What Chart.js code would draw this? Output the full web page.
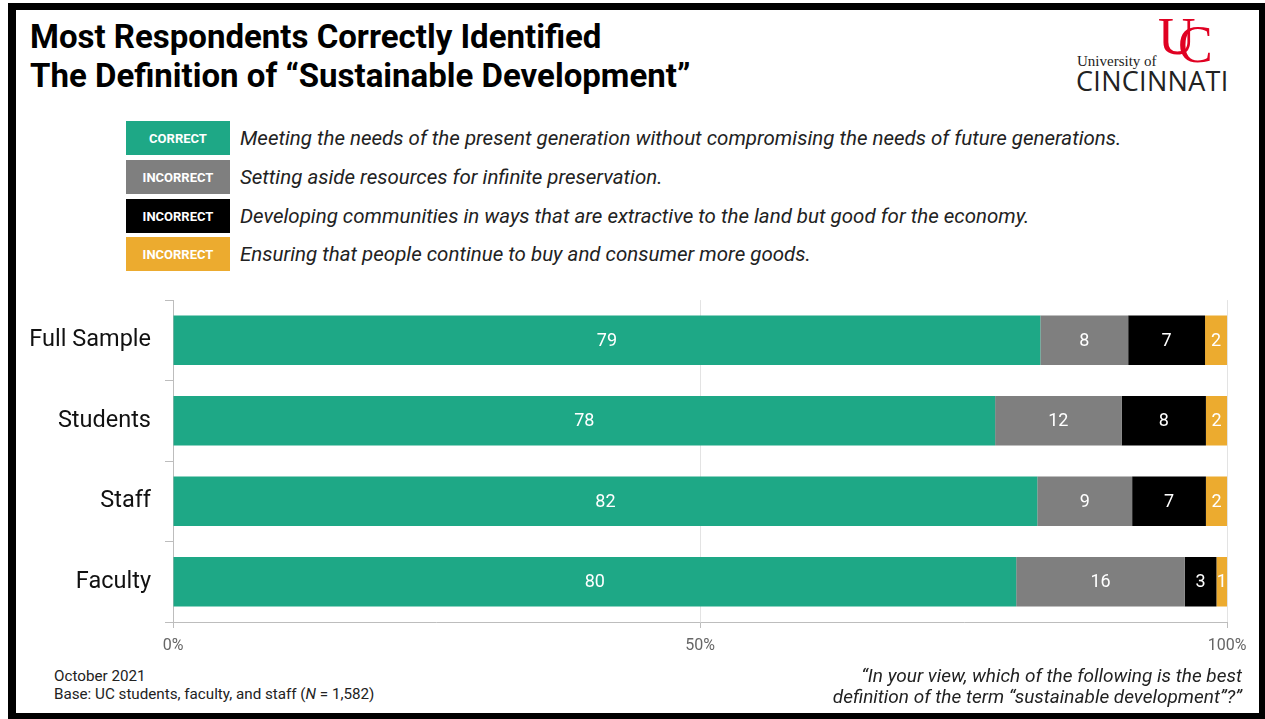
<!DOCTYPE html>
<html>
<head>
<meta charset="utf-8">
<title>Sustainable Development Definition</title>
<script src="https://cdn.jsdelivr.net/npm/chart.js@4.4.1/dist/chart.umd.min.js"></script>
<style>
  body { margin: 0; width: 1265px; height: 719px; background: #fff; font-family: Roboto, sans-serif; color: #111; overflow: hidden; position: relative; }
  #frame { position: absolute; left: 8px; top: 3px; width: 1257px; height: 716px; box-sizing: border-box; border-style: solid; border-color: #000; border-width: 7px 6px 6px 8px; }
  #title { position: absolute; left: 30px; top: 17px; font-weight: 700; font-size: 33px; line-height: 39px; color: #000; }
  #logo { position: absolute; left: 1070px; top: 14px; width: 170px; height: 80px; }
  #logo .uc { position: absolute; top: 0; font-family: "Liberation Serif", serif; color: #e00122; font-size: 52px; line-height: 50px; }
  #logo .u { left: 88px; top: -2px; }
  #logo .c { left: 108px; top: 6px; }
  #logo .univ { position: absolute; left: 7px; top: 39px; font-family: "Liberation Serif", serif; font-size: 15px; color: #222; }
  #logo .cin { position: absolute; left: 6px; top: 48px; font-family: "Open Sans", sans-serif; font-size: 27px; letter-spacing: 0.3px; color: #222; }
  .row { position: absolute; left: 126px; height: 34px; display: flex; align-items: center; }
  .tag { width: 104px; height: 34px; display: flex; align-items: center; justify-content: center; color: #fff; font-weight: 700; font-size: 13px; }
  .desc { margin-left: 10px; font-style: italic; font-size: 20.5px; color: #222; }
  #chartBox { position: absolute; left: 0; top: 272px; width: 1265px; height: 393px; }
  #note { position: absolute; left: 54px; top: 667px; font-size: 15.2px; line-height: 18px; color: #222; }
  #question { position: absolute; right: 23px; top: 665px; text-align: right; font-style: italic; font-size: 19px; line-height: 21px; color: #222; }
</style>
</head>
<body>
<div id="frame"></div>

<div id="title">Most Respondents Correctly Identified<br>The Definition of “Sustainable Development”</div>

<div id="logo">
  <span class="uc u">U</span><span class="uc c">C</span>
  <div class="univ">University of</div>
  <div class="cin">CINCINNATI</div>
</div>

<div id="legend"></div>

<div id="chartBox"><canvas id="grafikDefinisi"></canvas></div>

<div id="note">October 2021<br>Base: UC students, faculty, and staff (<i>N</i> = 1,582)</div>
<div id="question">“In your view, which of the following is the best<br>definition of the term “sustainable development”?”</div>

<script>
// groups and answer shares (percent)
const groups = ["Full Sample", "Students", "Staff", "Faculty"];
const correct = [79, 78, 82, 80];
const setAside = [8, 12, 9, 16];
const extractive = [7, 8, 7, 3];
const consume = [2, 2, 2, 1];
const xTicks = [0, 50, 100];

const answers = [
  { tag: "CORRECT", color: "#1ea886", text: "Meeting the needs of the present generation without compromising the needs of future generations.", values: correct },
  { tag: "INCORRECT", color: "#7f7f7f", text: "Setting aside resources for infinite preservation.", values: setAside },
  { tag: "INCORRECT", color: "#000000", text: "Developing communities in ways that are extractive to the land but good for the economy.", values: extractive },
  { tag: "INCORRECT", color: "#ecab2f", text: "Ensuring that people continue to buy and consumer more goods.", values: consume }
];

// legend rows
const rowTops = [121, 160, 199, 237];
const legend = document.getElementById("legend");
answers.forEach((a, i) => {
  const row = document.createElement("div");
  row.className = "row";
  row.style.top = rowTops[i] + "px";
  row.innerHTML = '<div class="tag" style="background:' + a.color + '">' + a.tag + '</div><div class="desc">' + a.text + '</div>';
  legend.appendChild(row);
});

// each bar fills 0-100% of its own row total
const totals = groups.map((g, j) => answers.reduce((s, a) => s + a.values[j], 0));

// white number in the middle of each segment
const segmentLabels = {
  id: "segmentLabels",
  afterDatasetsDraw(chart) {
    const ctx = chart.ctx;
    ctx.save();
    ctx.font = "18px Roboto";
    ctx.fillStyle = "#fff";
    ctx.textAlign = "center";
    ctx.textBaseline = "middle";
    chart.data.datasets.forEach((ds, i) => {
      chart.getDatasetMeta(i).data.forEach((bar, j) => {
        const p = bar.getProps(["x", "y", "base"], true);
        ctx.fillText(String(ds.raw[j]), (p.x + p.base) / 2, p.y + 1);
      });
    });
    ctx.restore();
  }
};

new Chart(document.getElementById("grafikDefinisi"), {
  type: "bar",
  data: {
    labels: groups,
    datasets: answers.map(a => ({
      label: a.text,
      raw: a.values,
      data: a.values.map((v, j) => v / totals[j] * 100),
      backgroundColor: a.color,
      borderWidth: 0,
      barPercentage: 0.615,
      categoryPercentage: 1
    }))
  },
  options: {
    indexAxis: "y",
    responsive: true,
    maintainAspectRatio: false,
    animation: false,
    layout: { padding: { top: 0, right: 38, bottom: 3, left: 0 } },
    plugins: { legend: { display: false }, tooltip: { enabled: false } },
    scales: {
      x: {
        stacked: true,
        min: 0,
        max: 100,
        afterBuildTicks: scale => { scale.ticks = xTicks.map(v => ({ value: v })); },
        afterFit: scale => { scale.height = 40; },
        grid: { color: "#e3e3e3", tickColor: "#bdbdbd", tickLength: 6 },
        border: { color: "#bdbdbd" },
        ticks: {
          padding: 8,
          color: "#666",
          font: { family: "Roboto", size: 16 },
          callback: v => v + "%"
        }
      },
      y: {
        stacked: true,
        afterFit: scale => { scale.width = 173; },
        grid: { drawOnChartArea: false, tickColor: "#bdbdbd", tickLength: 8 },
        border: { color: "#bdbdbd" },
        ticks: {
          padding: 14,
          color: "#111",
          font: { family: "Roboto", size: 23.5 }
        }
      }
    }
  },
  plugins: [segmentLabels]
});
</script>
</body>
</html>
